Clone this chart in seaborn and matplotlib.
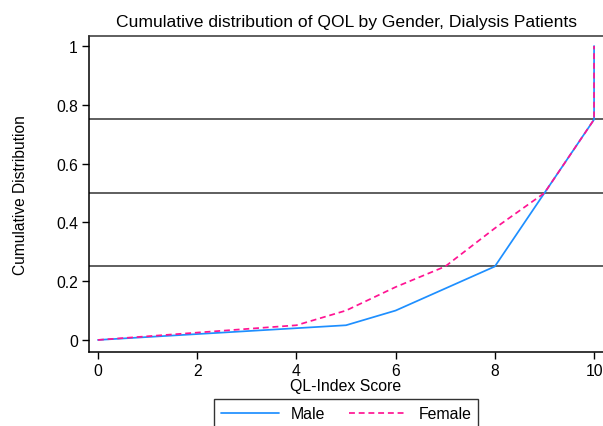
import numpy as np
import pandas as pd
import matplotlib
matplotlib.use('Agg')
import matplotlib.pyplot as plt
import seaborn as sns

# cumulative distribution points
male_x = [0, 2, 4, 5, 6, 8, 9, 10, 10]
male_y = [0, 0.02, 0.04, 0.05, 0.10, 0.25, 0.50, 0.75, 1.0]
female_x = [0, 2, 4, 5, 6, 7, 8, 9, 10, 10]
female_y = [0, 0.025, 0.05, 0.10, 0.18, 0.25, 0.38, 0.50, 0.75, 1.0]
ref_lines = [0.25, 0.5, 0.75]
x_ticks = [0, 2, 4, 6, 8, 10]
y_ticks = [0, 0.2, 0.4, 0.6, 0.8, 1.0]
y_ticklabels = ['0', '0.2', '0.4', '0.6', '0.8', '1']

BLUE = '#1E8FFF'
PINK = '#FF1493'
DASH = (3.4, 2.2)

df = pd.concat([
    pd.DataFrame({'score': male_x, 'cum': male_y, 'gender': 'Male'}),
    pd.DataFrame({'score': female_x, 'cum': female_y, 'gender': 'Female'}),
], ignore_index=True)

sns.set_style('white')
plt.rcParams['font.family'] = ['Liberation Sans', 'DejaVu Sans']
plt.rcParams.update({'text.color': 'black', 'axes.labelcolor': 'black'})

fig = plt.figure(figsize=(6.03, 4.27), dpi=100)
ax = fig.add_axes([89 / 603, 74 / 427, 1 - 89 / 603, (353 - 37) / 427])

for y in ref_lines:
    ax.axhline(y, color='#333333', lw=1.1, zorder=1)

sns.lineplot(data=df, x='score', y='cum', hue='gender', style='gender',
             estimator=None, sort=False,
             palette={'Male': BLUE, 'Female': PINK},
             dashes={'Male': '', 'Female': DASH},
             lw=1.25, ax=ax, legend=False, zorder=3)

ax.set_xlim(-0.18, 10.18)
ax.set_ylim(-0.041, 1.034)
ax.set_xticks(x_ticks)
ax.set_yticks(y_ticks)
ax.set_yticklabels(y_ticklabels)
ax.tick_params(axis='both', direction='out', length=5, width=1, colors='black',
               labelsize=11.3, left=True, bottom=True, pad=3)

for side in ['left', 'bottom', 'top']:
    ax.spines[side].set_visible(True)
    ax.spines[side].set_color('black')
    ax.spines[side].set_linewidth(1.1)
ax.spines['top'].set_color('#333333')
ax.spines['right'].set_visible(False)

ax.set_xlabel('QL-Index Score', fontsize=11.4, labelpad=0)
ax.set_ylabel('Cumulative Distribution', fontsize=11.2, labelpad=20)
ax.set_title('Cumulative distribution of QOL by Gender, Dialysis Patients',
             fontsize=12.6, pad=7, color='black')
ax.title.set_x((346 - 89) / (603 - 89))

handles = [
    plt.Line2D([], [], color=BLUE, lw=1.25),
    plt.Line2D([], [], color=PINK, lw=1.25, dashes=DASH),
]
leg = fig.legend(handles, ['Male', 'Female'], loc='upper center',
                 bbox_to_anchor=(346 / 603, 27 / 427), ncol=2,
                 fontsize=11.4, frameon=True, fancybox=False,
                 handlelength=3.7, handletextpad=0.7, columnspacing=1.5,
                 borderpad=0.45, borderaxespad=0)
leg.get_frame().set_edgecolor('black')
leg.get_frame().set_linewidth(1.0)

fig.savefig('out.png', dpi=100)
